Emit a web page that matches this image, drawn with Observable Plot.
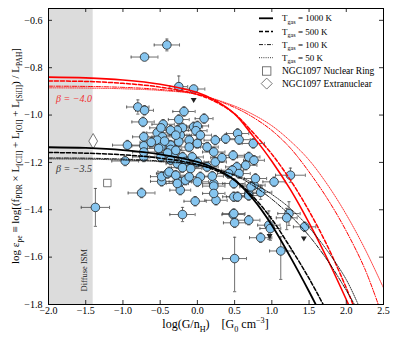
<!DOCTYPE html>
<html><head><meta charset="utf-8">
<script src="https://cdn.jsdelivr.net/npm/d3@7"></script>
<script src="https://cdn.jsdelivr.net/npm/@observablehq/plot@0.6"></script>
<style>
body{margin:0;background:#fff;}
#chart svg{display:block;}
</style></head><body><div id="chart"></div>
<script>
// ---- data: galaxy regions ----
const ptX = [-0.41,-0.71,-0.25,-0.05,-0.80,-0.71,-0.18,0.09,-0.73,-0.46,
-0.25,-0.05,-0.20,-0.54,-0.72,-0.47,-0.94,-0.72,-0.54,-0.49,
-0.36,-0.23,-0.25,-0.11,0.00,-0.72,-0.49,-0.32,-0.20,-0.07,
-0.97,-1.37,-0.75,-0.20,-0.48,-0.48,-0.23,-0.23,-0.16,-0.03,
-0.40,1.25,1.03,0.85,0.69,0.48,0.50,0.69,0.96,0.98,
1.23,1.20,1.44,0.85,1.12,0.50,0.22,0.25,0.49,0.76,
0.75,0.54,0.56,0.48,0.69,0.76,0.65,0.53,0.47,0.78,
0.72,0.69,-0.27,0.00,-0.02,0.04,0.24,0.38,-0.11,0.13,
-0.49,-0.62,-0.44,-0.52,-0.72,-0.36,-0.29,-0.36,-0.40,-0.29,
-0.38,-0.29,-0.27,-0.36,-0.27,0.22,-0.16,0.00,0.24,-0.20,
-0.09,0.13,0.56,-0.11,0.04,0.20,0.42,0.00,0.22,0.49,
0.22,0.54,0.49,0.33];
const ptY = [-0.704,-0.755,-0.880,-0.890,-0.966,-0.980,-0.985,-1.015,-1.029,-1.039,
-1.019,-1.050,-1.054,-1.075,-1.092,-1.092,-1.127,-1.130,-1.106,-1.135,
-1.127,-1.085,-1.113,-1.106,-1.120,-1.177,-1.177,-1.163,-1.177,-1.177,
-1.194,-1.390,-1.329,-1.420,-1.280,-1.260,-1.317,-1.282,-1.275,-1.364,
-1.247,-1.254,-1.282,-1.326,-1.331,-1.420,-1.455,-1.444,-1.465,-1.479,
-1.416,-1.434,-1.472,-1.518,-1.574,-1.606,-1.290,-1.360,-1.345,-1.296,
-1.120,-1.078,-1.104,-1.170,-1.177,-1.191,-1.212,-1.219,-1.233,-1.268,
-1.303,-1.340,-1.064,-1.046,-1.066,-1.085,-1.106,-1.100,-1.135,-1.135,
-1.054,-1.115,-1.110,-1.141,-1.156,-1.064,-1.085,-1.145,-1.160,-1.149,
-1.240,-1.254,-1.289,-1.190,-1.205,-1.156,-1.196,-1.200,-1.198,-1.222,
-1.226,-1.219,-1.247,-1.261,-1.261,-1.258,-1.247,-1.282,-1.300,-1.289,
-1.331,-1.345,-1.416,-1.180];
const ptXerr = [0.17,0.18,0.12,0.15,0.15,0.12,0.15,0.12,0.15,0.15,
0.14,0.12,0.16,0.14,0.15,0.14,0.20,0.16,0.15,0.15,
0.14,0.15,0.15,0.16,0.15,0.15,0.15,0.14,0.15,0.15,
0.18,0.19,0.18,0.17,0.15,0.15,0.14,0.15,0.15,0.15,
0.15,0.20,0.15,0.15,0.15,0.15,0.15,0.15,0.15,0.14,
0.15,0.14,0.15,0.15,0.15,0.16,0.15,0.15,0.15,0.15,
0.15,0.15,0.15,0.15,0.15,0.14,0.15,0.15,0.15,0.15,
0.15,0.14,0.15,0.15,0.15,0.15,0.15,0.15,0.15,0.15,
0.15,0.15,0.15,0.15,0.15,0.15,0.15,0.15,0.15,0.15,
0.15,0.15,0.15,0.15,0.15,0.15,0.15,0.15,0.15,0.15,
0.15,0.15,0.15,0.15,0.15,0.15,0.15,0.15,0.15,0.15,
0.15,0.15,0.15,0.15];
const ptYerrDown = [0.025,0.01,0.02,0.015,0.03,0.02,0.02,0.02,0.02,0.02,
0.02,0.02,0.02,0.02,0.02,0.02,0.02,0.02,0.02,0.02,
0.02,0.02,0.02,0.02,0.02,0.02,0.02,0.02,0.02,0.02,
0.02,0.08,0.02,0.03,0.02,0.02,0.02,0.02,0.02,0.02,
0.02,0.03,0.02,0.03,0.02,0.02,0.02,0.02,0.06,0.05,
0.05,0.05,0.02,0.02,0.12,0.14,0.02,0.02,0.02,0.02,
0.02,0.02,0.02,0.02,0.02,0.02,0.02,0.02,0.02,0.02,
0.02,0.02,0.02,0.02,0.02,0.02,0.02,0.02,0.02,0.02,
0.02,0.02,0.02,0.02,0.02,0.02,0.02,0.02,0.02,0.02,
0.02,0.02,0.02,0.02,0.02,0.02,0.02,0.02,0.02,0.02,
0.02,0.02,0.02,0.02,0.02,0.02,0.02,0.02,0.02,0.02,
0.02,0.02,0.02,0.02];
const ptYerrUp = [0.025,0.01,0.045,0.015,0.03,0.02,0.02,0.02,0.02,0.02,
0.02,0.02,0.02,0.02,0.02,0.02,0.02,0.02,0.02,0.02,
0.02,0.02,0.02,0.02,0.02,0.02,0.02,0.02,0.02,0.02,
0.02,0.08,0.02,0.03,0.02,0.02,0.02,0.02,0.02,0.02,
0.02,0.03,0.02,0.03,0.02,0.02,0.02,0.02,0.06,0.05,
0.05,0.04,0.02,0.02,0.06,0.09,0.02,0.02,0.02,0.02,
0.02,0.02,0.02,0.02,0.02,0.02,0.02,0.02,0.02,0.02,
0.02,0.02,0.02,0.02,0.02,0.02,0.02,0.02,0.02,0.02,
0.02,0.02,0.02,0.02,0.02,0.02,0.02,0.02,0.02,0.02,
0.02,0.02,0.02,0.02,0.02,0.02,0.02,0.02,0.02,0.02,
0.02,0.02,0.02,0.02,0.02,0.02,0.02,0.02,0.02,0.02,
0.02,0.02,0.02,0.02];
// limit arrows
const arrowX = [-0.05,0.97,1.43];
const arrowY = [-0.935,-1.51,-1.52];
// NGC1097
const ringX = [-1.21], ringY = [-1.287];
const extraX = [-1.40], extraY = [-1.11];

// ---- model curves (beta = -3.5, black) ----
const b1000X = [-2,-1.5,-1,-0.5,0,0.25,0.5,0.75,1.0,1.25,1.5,1.59];
const b1000Y = [-1.136,-1.139,-1.148,-1.166,-1.198,-1.228,-1.275,-1.355,-1.465,-1.6,-1.745,-1.8];
const b500X = [-2,-1.5,-1,-0.5,0,0.25,0.5,0.75,1.0,1.25,1.5,1.69];
const b500Y = [-1.158,-1.161,-1.168,-1.182,-1.208,-1.234,-1.275,-1.345,-1.44,-1.56,-1.69,-1.8];
const b100X = [-2,-1.5,-1,-0.5,0,0.5,0.75,1.0,1.25,1.5,1.75,2.0,2.11];
const b100Y = [-1.181,-1.182,-1.186,-1.194,-1.21,-1.255,-1.298,-1.355,-1.425,-1.51,-1.615,-1.74,-1.8];
const b50X = [-2,-1.5,-1,-0.5,0,0.5,0.75,1.0,1.25,1.5,1.75,2.0,2.16];
const b50Y = [-1.185,-1.186,-1.19,-1.197,-1.212,-1.252,-1.288,-1.335,-1.395,-1.475,-1.575,-1.695,-1.8];
// ---- model curves (beta = -4.0, red) ----
const r1000X = [-2,-1.5,-1,-0.5,0,0.25,0.5,0.75,1.0,1.25,1.5,1.75,2.03];
const r1000Y = [-0.84,-0.843,-0.852,-0.87,-0.905,-0.94,-0.995,-1.09,-1.195,-1.315,-1.455,-1.61,-1.8];
const r500X = [-2,-1.5,-1,-0.5,0,0.25,0.5,0.75,1.0,1.25,1.5,1.75,2.0,2.09];
const r500Y = [-0.856,-0.858,-0.866,-0.882,-0.913,-0.945,-0.995,-1.075,-1.165,-1.275,-1.405,-1.555,-1.73,-1.8];
const r100X = [-2,-1.5,-1,-0.5,0,0.5,0.75,1.0,1.25,1.5,1.75,2.0,2.25,2.43];
const r100Y = [-0.878,-0.879,-0.883,-0.892,-0.912,-0.968,-1.01,-1.065,-1.14,-1.24,-1.355,-1.49,-1.65,-1.8];
const r50X = [-2,-1.5,-1,-0.5,0,0.5,0.75,1.0,1.25,1.5,1.75,2.0,2.25,2.5];
const r50Y = [-0.885,-0.886,-0.889,-0.896,-0.913,-0.962,-0.998,-1.045,-1.11,-1.19,-1.295,-1.42,-1.565,-1.73];

// ---- axes / annotations ----
const xTicks = [-2.0,-1.5,-1.0,-0.5,0.0,0.5,1.0,1.5,2.0,2.5];
const yTicks = [-1.8,-1.6,-1.4,-1.2,-1.0,-0.8,-0.6];
const diffuseBand = [{x1:-2.0, x2:-1.4}];
const annoText = ["β = −4.0","β = −3.5"];
const annoX = [-1.9,-1.9];
const annoY = [-0.933,-1.226];
const annoColor = ["#f03030","#333333"];

const W=399,H=342, mL=48, mR=16, mT=8, mB=38;
const pw=W-mL-mR, ph=H-mT-mB;

const pts = ptX.map((x,i)=>({x, y:ptY[i], xe:ptXerr[i], dn:ptYerrDown[i], up:ptYerrUp[i]}));
const mk = (xs,ys)=>xs.map((x,i)=>({x,y:ys[i]}));
const curves = [
 {d:mk(r50X,r50Y), c:"#ff0000", w:0.8, dash:"1,1.2"},
 {d:mk(r100X,r100Y), c:"#ff0000", w:1.0, dash:"4,1.5,1,1.5"},
 {d:mk(r500X,r500Y), c:"#ff0000", w:1.5, dash:"4,2"},
 {d:mk(r1000X,r1000Y), c:"#ff0000", w:1.6, dash:null},
 {d:mk(b50X,b50Y), c:"#000", w:0.8, dash:"1,1.2"},
 {d:mk(b100X,b100Y), c:"#000", w:0.9, dash:"4,1.5,1,1.5"},
 {d:mk(b500X,b500Y), c:"#000", w:1.5, dash:"4,2"},
 {d:mk(b1000X,b1000Y), c:"#000", w:1.8, dash:null}
];
const vcap = {draw(ctx,size){const r=Math.sqrt(size/Math.PI); ctx.moveTo(0,-r); ctx.lineTo(0,r);}};
const hcap = {draw(ctx,size){const r=Math.sqrt(size/Math.PI); ctx.moveTo(-r,0); ctx.lineTo(r,0);}};
const ebColor = "#4a4a4a";
const fmt = d3.format(".1f");

const svg = Plot.plot({
  width: W, height: H,
  marginLeft: mL, marginRight: mR, marginTop: mT, marginBottom: mB,
  style: {fontFamily: "Liberation Serif, serif", fontSize: "10px", background: "#fff"},
  x: {domain: [-2, 2.5]},
  y: {domain: [-1.8, -0.55]},
  marks: [
    Plot.rect(diffuseBand, {x1:"x1", x2:"x2", fill:"#dcdcdc"}),
    Plot.text(["Diffuse ISM"], {x:-1.52, y:-1.655, text:d=>d, rotate:-90, fontSize:8.5, fill:"#222"}),
    // error bars
    Plot.ruleY(pts, {y:"y", x1:d=>d.x-d.xe, x2:d=>d.x+d.xe, stroke:ebColor, strokeWidth:0.8}),
    Plot.ruleX(pts, {x:"x", y1:d=>d.y-d.dn, y2:d=>d.y+d.up, stroke:ebColor, strokeWidth:0.8}),
    Plot.dot(pts, {x:d=>d.x-d.xe, y:"y", symbol:vcap, r:1.6, fill:"none", stroke:ebColor, strokeWidth:0.8}),
    Plot.dot(pts, {x:d=>d.x+d.xe, y:"y", symbol:vcap, r:1.6, fill:"none", stroke:ebColor, strokeWidth:0.8}),
    Plot.dot(pts, {x:"x", y:d=>d.y-d.dn, symbol:hcap, r:1.6, fill:"none", stroke:ebColor, strokeWidth:0.8}),
    Plot.dot(pts, {x:"x", y:d=>d.y+d.up, symbol:hcap, r:1.6, fill:"none", stroke:ebColor, strokeWidth:0.8}),
    Plot.dot(arrowX.map((x,i)=>({x,y:arrowY[i]})), {x:"x", y:"y", symbol:"triangle", rotate:180, r:2.2, fill:"#222", stroke:"none"}),
    Plot.dot(pts, {x:"x", y:"y", r:4.3, fill:"#86c5ef", stroke:"#222", strokeWidth:0.8}),
    Plot.dot(ringX.map((x,i)=>({x,y:ringY[i]})), {x:"x", y:"y", symbol:"square", r:4.2, fill:"#fff", stroke:"#555", strokeWidth:0.8}),
    Plot.dot(extraX.map((x,i)=>({x,y:extraY[i]})), {x:"x", y:"y", symbol:"diamond", r:4.6, fill:"#fff", stroke:"#555", strokeWidth:0.8}),
    // model curves
    ...curves.map(cv => Plot.line(cv.d, {x:"x", y:"y", stroke:cv.c, strokeWidth:cv.w, strokeDasharray:cv.dash, curve:"catmull-rom", clip:true})),
    // annotations
    Plot.text(annoText.map((t,i)=>({t, x:annoX[i], y:annoY[i], c:annoColor[i]})), {x:"x", y:"y", text:"t", fill:d=>d.c, textAnchor:"start", fontSize:10, fontStyle:"italic"}),
    // frame and inward ticks
    Plot.frame({stroke:"#000", strokeWidth:1}),
    Plot.tickX(xTicks, {x:d=>d, insetTop:ph-4, stroke:"#000", strokeWidth:0.8}),
    Plot.tickX(xTicks, {x:d=>d, insetBottom:ph-4, stroke:"#000", strokeWidth:0.8}),
    Plot.tickY(yTicks, {y:d=>d, insetRight:pw-4, stroke:"#000", strokeWidth:0.8}),
    Plot.tickY(yTicks, {y:d=>d, insetLeft:pw-4, stroke:"#000", strokeWidth:0.8}),
    Plot.axisX(xTicks, {anchor:"bottom", tickSize:0, tickPadding:2, tickFormat:fmt, label:null, fontSize:10}),
    Plot.axisY(yTicks, {anchor:"left", tickSize:0, tickPadding:6, tickFormat:fmt, label:null, fontSize:10})
  ]
});
document.getElementById("chart").appendChild(svg);

// ---- rich text labels & legend ----
const S = d3.select(svg);
function rich(sel, segs, fs){
  let shift = 0;
  for (const s of segs){
    const target = s.sub ? fs*0.3 : (s.sup ? -fs*0.4 : 0);
    sel.append("tspan").text(s.t).attr("dy", target-shift).attr("font-size", (s.sub||s.sup) ? fs*0.68 : fs);
    shift = target;
  }
}
const fam = "Liberation Serif, serif";
// y label
const yl = S.append("text").attr("transform", `translate(19,${mT+ph/2}) rotate(-90)`)
  .attr("text-anchor","middle").attr("font-family",fam).attr("fill","#000");
rich(yl, [{t:"log ε"},{t:"pe",sub:true},{t:" ≡ log[(f"},{t:"PDR",sub:true},{t:" × L"},{t:"[CII]",sub:true},
  {t:" + L"},{t:"[OI]",sub:true},{t:" + L"},{t:"[SiII]",sub:true},{t:") / L"},{t:"PAH",sub:true},{t:"]"}], 11);
// x label
const xl = S.append("text").attr("x", mL+pw/2).attr("y", 328).attr("text-anchor","middle")
  .attr("font-family",fam).attr("fill","#000");
rich(xl, [{t:"log(G/n"},{t:"H",sub:true},{t:")    [G"},{t:"0",sub:true},{t:" cm"},{t:"−3",sup:true},{t:"]"}], 12);

// legend
const lg = S.append("g").attr("font-family",fam).attr("text-anchor","start");
const legLines = [
  {t:"1000", w:1.8, dash:null},
  {t:"500", w:1.5, dash:"4,2"},
  {t:"100", w:0.9, dash:"4,1.5,1,1.5"},
  {t:"50", w:0.8, dash:"1,1.2"}
];
const rowY = [18.3, 31.5, 44.6, 57.7, 71, 83.6];
legLines.forEach((L,i)=>{
  lg.append("line").attr("x1",259).attr("x2",273).attr("y1",rowY[i]).attr("y2",rowY[i])
    .attr("stroke","#000").attr("stroke-width",L.w).attr("stroke-dasharray",L.dash);
  const t = lg.append("text").attr("x",282).attr("y",rowY[i]+3).attr("fill","#000").attr("text-anchor","start");
  rich(t, [{t:"T"},{t:"gas",sub:true},{t:" = "+L.t+" K"}], 9);
});
lg.append("rect").attr("x",262.5).attr("y",rowY[4]-4.2).attr("width",8.4).attr("height",8.4)
  .attr("fill","#fff").attr("stroke","#555").attr("stroke-width",0.8);
lg.append("path").attr("d",`M266.7,${rowY[5]-5.5}L272.2,${rowY[5]}L266.7,${rowY[5]+5.5}L261.2,${rowY[5]}Z`)
  .attr("fill","#fff").attr("stroke","#555").attr("stroke-width",0.8);
lg.append("text").attr("x",282).attr("y",rowY[4]+3.3).attr("font-size",9.5).attr("fill","#000").attr("text-anchor","start").text("NGC1097 Nuclear Ring");
lg.append("text").attr("x",282).attr("y",rowY[5]+3.3).attr("font-size",9.5).attr("fill","#000").attr("text-anchor","start").text("NGC1097 Extranuclear");
</script>
</body></html>
